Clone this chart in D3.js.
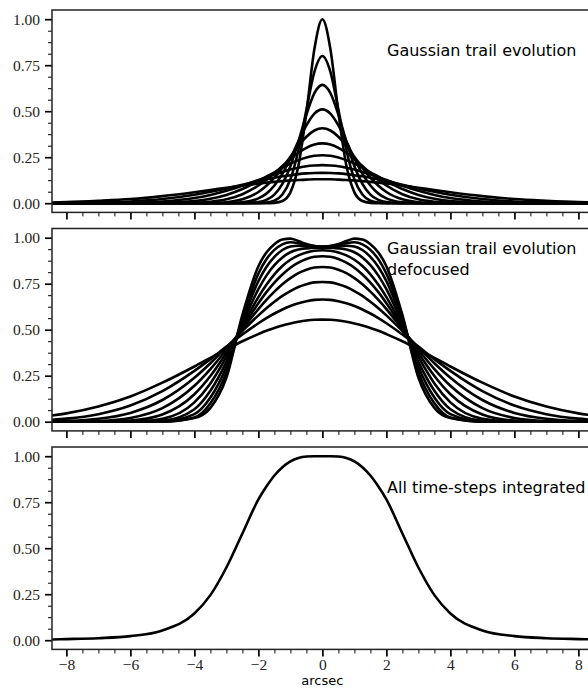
<!DOCTYPE html>
<html>
<head>
<meta charset="utf-8">
<script src="https://cdn.jsdelivr.net/npm/d3@7"></script>
<style>
  body { margin: 0; background: #fff; }
</style>
</head>
<body>
<div id="canvas"></div>
<script>
// sample positions (arcsec), right half only - every profile is symmetric about 0
const xs = [0, 0.25, 0.5, 0.75, 1, 1.25, 1.5, 1.75, 2, 2.5, 3, 3.5, 4, 5, 6, 7, 8, 8.5];

// panel 1: trail evolution, one row per time-step
const trail = [
  [1.0, 0.838, 0.492, 0.203, 0.059, 0.012, 0.002, 0, 0, 0, 0, 0, 0, 0, 0, 0, 0, 0],
  [0.8, 0.714, 0.508, 0.288, 0.130, 0.047, 0.0135, 0.003, 0.0006, 0, 0, 0, 0, 0, 0, 0, 0, 0],
  [0.643, 0.598, 0.481, 0.335, 0.201, 0.105, 0.047, 0.018, 0.006, 0.0005, 0, 0, 0, 0, 0, 0, 0, 0],
  [0.51, 0.487, 0.423, 0.336, 0.243, 0.160, 0.096, 0.052, 0.026, 0.005, 0.0006, 0, 0, 0, 0, 0, 0, 0],
  [0.407, 0.395, 0.361, 0.311, 0.253, 0.193, 0.139, 0.095, 0.061, 0.021, 0.0056, 0.0012, 0.0002, 0, 0, 0, 0, 0],
  [0.325, 0.319, 0.301, 0.274, 0.240, 0.202, 0.164, 0.128, 0.096, 0.049, 0.021, 0.0078, 0.0025, 0.0002, 0, 0, 0, 0],
  [0.261, 0.258, 0.249, 0.234, 0.215, 0.193, 0.168, 0.144, 0.120, 0.077, 0.045, 0.024, 0.0116, 0.002, 0.0002, 0, 0, 0],
  [0.207, 0.205, 0.201, 0.193, 0.183, 0.170, 0.156, 0.141, 0.126, 0.095, 0.0675, 0.045, 0.028, 0.0092, 0.0023, 0.0005, 0.0001, 0],
  [0.165, 0.164, 0.162, 0.158, 0.152, 0.146, 0.138, 0.129, 0.120, 0.100, 0.080, 0.062, 0.046, 0.0224, 0.0093, 0.0033, 0.001, 0.0005],
  [0.13, 0.13, 0.128, 0.126, 0.124, 0.120, 0.116, 0.112, 0.107, 0.096, 0.084, 0.0715, 0.0595, 0.0384, 0.0224, 0.013, 0.006, 0.004]
];

// panel 2: same evolution, defocused
const defocused = [
  [0.952, 0.955, 0.966, 0.982, 0.995, 0.99, 0.965, 0.92, 0.845, 0.58, 0.24, 0.075, 0.02, 0.001, 0, 0, 0, 0],
  [0.951, 0.954, 0.960, 0.970, 0.975, 0.964, 0.934, 0.883, 0.805, 0.563, 0.268, 0.100, 0.023, 0.0003, 0, 0, 0, 0],
  [0.950, 0.950, 0.953, 0.956, 0.952, 0.933, 0.896, 0.841, 0.764, 0.548, 0.297, 0.131, 0.041, 0.0014, 0, 0, 0, 0],
  [0.945, 0.945, 0.942, 0.936, 0.921, 0.893, 0.851, 0.794, 0.720, 0.533, 0.325, 0.168, 0.068, 0.0055, 0.0002, 0, 0, 0],
  [0.932, 0.929, 0.920, 0.904, 0.880, 0.846, 0.801, 0.744, 0.677, 0.519, 0.352, 0.208, 0.105, 0.0164, 0.0012, 0, 0, 0],
  [0.899, 0.896, 0.884, 0.864, 0.837, 0.800, 0.756, 0.704, 0.644, 0.511, 0.373, 0.248, 0.149, 0.0388, 0.0063, 0.0007, 0, 0],
  [0.841, 0.838, 0.826, 0.807, 0.780, 0.747, 0.707, 0.662, 0.612, 0.504, 0.391, 0.286, 0.195, 0.0735, 0.0204, 0.0042, 0.0006, 0.0002],
  [0.759, 0.757, 0.747, 0.732, 0.710, 0.684, 0.652, 0.617, 0.578, 0.493, 0.404, 0.318, 0.239, 0.118, 0.0479, 0.0159, 0.0043, 0.002],
  [0.664, 0.662, 0.655, 0.644, 0.629, 0.610, 0.588, 0.563, 0.535, 0.474, 0.408, 0.340, 0.276, 0.166, 0.0877, 0.0408, 0.0165, 0.010],
  [0.555, 0.554, 0.550, 0.543, 0.534, 0.523, 0.509, 0.494, 0.476, 0.437, 0.393, 0.347, 0.300, 0.212, 0.137, 0.0825, 0.0454, 0.0327]
];

// panel 3: all time-steps integrated
const integrated = [1.0, 1.0, 0.998, 0.99, 0.972, 0.94, 0.895, 0.835, 0.765, 0.58, 0.395, 0.245, 0.145, 0.053, 0.022, 0.011, 0.006, 0.004];

const xTicks = [-8, -6, -4, -2, 0, 2, 4, 6, 8];
const yTicks = [0, 0.25, 0.5, 0.75, 1];
const notes = [
  ["Gaussian trail evolution"],
  ["Gaussian trail evolution", "defocused"],
  ["All time-steps integrated"]
];
const xTitle = "arcsec";

const width = 588, height = 689;
const left = 52, right = 592.8;
const panelTops = [10, 228.5, 447];
const panelH = 202.4;
const serif = "'Liberation Serif', 'DejaVu Serif', serif";

const svg = d3.select("#canvas").append("svg")
  .attr("width", width)
  .attr("height", height);

const x = d3.scaleLinear().domain([-8.45, 8.45]).range([left, right]);

// mirror a half profile into a full one
function fullProfile(vals) {
  const pts = [];
  for (let i = xs.length - 1; i > 0; i--) pts.push([-xs[i], vals[i]]);
  for (let i = 0; i < xs.length; i++) pts.push([xs[i], vals[i]]);
  return pts;
}

const xMinor = d3.range(-8.5, 8.51, 0.5).filter(v => v > -8.45 && v % 2 !== 0);
const yMinor = d3.range(0, 1.001, 0.0625).filter(v => !yTicks.includes(v));

const panels = [trail, defocused, [integrated]];

panels.forEach((curves, p) => {
  const top = panelTops[p];
  const bottom = top + panelH;
  const y = d3.scaleLinear().domain([-0.05, 1.05]).range([bottom, top]);
  const g = svg.append("g");

  g.append("clipPath").attr("id", "clip" + p)
    .append("rect")
    .attr("x", left).attr("y", top)
    .attr("width", right - left).attr("height", panelH);

  const line = d3.line()
    .x(d => x(d[0]))
    .y(d => y(d[1]))
    .curve(d3.curveMonotoneX);

  g.append("g").attr("clip-path", `url(#clip${p})`)
    .selectAll("path")
    .data(curves)
    .enter().append("path")
    .attr("d", d => line(fullProfile(d)))
    .attr("fill", "none")
    .attr("stroke", "#000")
    .attr("stroke-width", 2.6)
    .attr("stroke-linejoin", "round");

  // y axis, major and minor
  const yAx = g.append("g")
    .attr("transform", `translate(${left},0)`)
    .attr("font-family", serif)
    .call(d3.axisLeft(y).tickValues(yTicks).tickFormat(d3.format(".2f")).tickSize(7).tickPadding(5));
  yAx.attr("font-family", serif).attr("font-size", 15.5);
  yAx.select(".domain").remove();
  yAx.selectAll("line").attr("stroke-width", 1.7);
  yAx.selectAll("text").attr("fill", "#222");

  const yMin = g.append("g")
    .attr("transform", `translate(${left},0)`)
    .call(d3.axisLeft(y).tickValues(yMinor).tickFormat("").tickSize(4));
  yMin.select(".domain").remove();
  yMin.selectAll("line").attr("stroke-width", 1);

  // x axis, labels only on the bottom panel
  const xAx = g.append("g")
    .attr("transform", `translate(0,${bottom})`)
    .call(d3.axisBottom(x).tickValues(xTicks).tickSize(7).tickPadding(2.5)
      .tickFormat(p === 2 ? d3.format("d") : ""));
  xAx.attr("font-family", serif).attr("font-size", 15.5);
  xAx.select(".domain").remove();
  xAx.selectAll("line").attr("stroke-width", 1.7);
  xAx.selectAll("text").attr("fill", "#222");

  const xMin = g.append("g")
    .attr("transform", `translate(0,${bottom})`)
    .call(d3.axisBottom(x).tickValues(xMinor).tickFormat("").tickSize(4));
  xMin.select(".domain").remove();
  xMin.selectAll("line").attr("stroke-width", 1);

  // frame
  g.append("rect")
    .attr("x", left).attr("y", top)
    .attr("width", right - left).attr("height", panelH)
    .attr("fill", "none")
    .attr("stroke", "#222")
    .attr("stroke-width", 1.5);

  // annotation
  const note = g.append("text")
    .attr("x", 387)
    .attr("y", p === 1 ? top + 25 : top + 46)
    .style("font-family", "'DejaVu Sans', sans-serif")
    .style("font-size", "16px")
    .attr("fill", "#000");
  notes[p].forEach((t, i) => {
    note.append("tspan").attr("x", 387).attr("dy", i === 0 ? 0 : 21).text(t);
  });
});

svg.append("text")
  .attr("x", x(0))
  .attr("y", 685)
  .attr("text-anchor", "middle")
  .style("font-family", "'DejaVu Sans', sans-serif")
  .style("font-size", "13px")
  .text(xTitle);
</script>
</body>
</html>
